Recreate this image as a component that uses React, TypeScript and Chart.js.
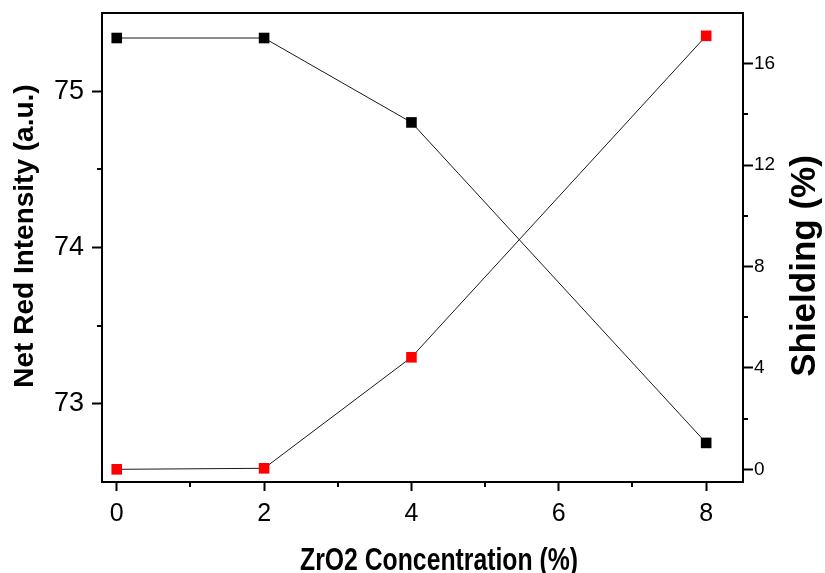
import React, { useEffect, useRef } from 'react';
import { Chart, registerables } from 'chart.js';

Chart.register(...registerables);

// ---- data ----
const concentration = [0, 2, 4, 8];
const netRedIntensity = [75.34, 75.34, 74.8, 72.75];
const shielding = [0, 0.04, 4.42, 17.1];

// ---- ticks ----
const xMajorTicks = [0, 2, 4, 6, 8];
const xMinorTicks = [1, 3, 5, 7];
const leftMajorTicks = [73, 74, 75];
const leftMinorTicks = [73.5, 74.5];
const rightMajorTicks = [0, 4, 8, 12, 16];
const rightMinorTicks = [2, 6, 10, 14];

// ---- texts ----
const xTitle = 'ZrO2 Concentration (%)';
const leftTitle = 'Net Red Intensity (a.u.)';
const rightTitle = 'Shielding (%)';

const FONT = "'Liberation Sans', Arial, sans-serif";

const framePlugin = {
  id: 'frameAndTitles',
  afterDraw(chart: any) {
    const ctx: CanvasRenderingContext2D = chart.ctx;
    const { left, right, top, bottom } = chart.chartArea;
    const sx = chart.scales.x;
    const sy = chart.scales.y;
    const sy2 = chart.scales.y2;
    ctx.save();
    ctx.strokeStyle = '#000';
    // top border
    ctx.lineWidth = 2;
    ctx.beginPath();
    ctx.moveTo(left - 1, top);
    ctx.lineTo(right + 1, top);
    ctx.stroke();
    // minor ticks
    ctx.lineWidth = 2;
    ctx.beginPath();
    xMinorTicks.forEach((v) => {
      const px = Math.round(sx.getPixelForValue(v));
      ctx.moveTo(px, bottom);
      ctx.lineTo(px, bottom + 5);
    });
    leftMinorTicks.forEach((v) => {
      const py = Math.round(sy.getPixelForValue(v));
      ctx.moveTo(left, py);
      ctx.lineTo(left - 5, py);
    });
    rightMinorTicks.forEach((v) => {
      const py = Math.round(sy2.getPixelForValue(v));
      ctx.moveTo(right, py);
      ctx.lineTo(right + 5, py);
    });
    ctx.stroke();

    // titles
    ctx.fillStyle = '#000';
    ctx.textAlign = 'center';
    ctx.textBaseline = 'middle';

    ctx.save();
    ctx.translate(25, 236);
    ctx.rotate(-Math.PI / 2);
    ctx.font = `bold 28px ${FONT}`;
    ctx.fillText(leftTitle, 0, 0);
    ctx.restore();

    ctx.save();
    ctx.translate(805, 266);
    ctx.rotate(-Math.PI / 2);
    ctx.font = `bold 35px ${FONT}`;
    ctx.fillText(rightTitle, 0, 0);
    ctx.restore();

    ctx.save();
    ctx.font = `bold 32px ${FONT}`;
    ctx.textBaseline = 'alphabetic';
    const w = ctx.measureText(xTitle).width;
    ctx.translate(439, 570);
    ctx.scale(278 / w, 1);
    ctx.fillText(xTitle, 0, 0);
    ctx.restore();

    ctx.restore();
  },
};

function zeroPad(s: any) {
  s.paddingTop = 0;
  s.paddingBottom = 0;
  s.paddingLeft = 0;
  s.paddingRight = 0;
}

export default function App() {
  const canvasRef = useRef<HTMLCanvasElement | null>(null);

  useEffect(() => {
    if (!canvasRef.current) return;
    const gridCommon = {
      drawOnChartArea: false,
      drawTicks: true,
      tickLength: 10,
      tickWidth: 2,
      tickColor: '#000',
      color: '#000',
    };
    const borderCommon = { display: true, color: '#000', width: 2 };

    const chart = new Chart(canvasRef.current, {
      type: 'line',
      data: {
        datasets: [
          {
            label: 'Net Red Intensity',
            data: concentration.map((x, i) => ({ x, y: netRedIntensity[i] })),
            yAxisID: 'y',
            borderColor: '#1a1a1a',
            borderWidth: 1,
            pointStyle: 'rect',
            pointRadius: 7.5,
            pointBorderWidth: 0,
            pointBackgroundColor: '#000',
            pointBorderColor: '#000',
            tension: 0,
          },
          {
            label: 'Shielding',
            data: concentration.map((x, i) => ({ x, y: shielding[i] })),
            yAxisID: 'y2',
            borderColor: '#1a1a1a',
            borderWidth: 1,
            pointStyle: 'rect',
            pointRadius: 7.5,
            pointBorderWidth: 0,
            pointBackgroundColor: '#ff0000',
            pointBorderColor: '#ff0000',
            tension: 0,
          },
        ],
      },
      options: {
        animation: false,
        responsive: false,
        layout: { padding: { top: 13, left: 0, right: 0, bottom: 0 } },
        plugins: {
          legend: { display: false },
          tooltip: { enabled: false },
          title: { display: false },
        },
        scales: {
          x: {
            type: 'linear',
            position: 'bottom',
            min: -0.2,
            max: 8.5,
            afterBuildTicks: (s: any) => {
              s.ticks = xMajorTicks.map((v) => ({ value: v }));
            },
            afterFit: (s: any) => {
              s.height = 91;
              zeroPad(s);
            },
            grid: { ...gridCommon, tickLength: 9 },
            border: borderCommon,
            ticks: {
              color: '#000',
              font: { family: FONT, size: 25 },
              padding: 8,
              maxRotation: 0,
              autoSkip: false,
            },
          },
          y: {
            type: 'linear',
            position: 'left',
            min: 72.5,
            max: 75.5,
            afterBuildTicks: (s: any) => {
              s.ticks = leftMajorTicks.map((v) => ({ value: v }));
            },
            afterFit: (s: any) => {
              s.width = 102;
              zeroPad(s);
            },
            grid: gridCommon,
            border: borderCommon,
            ticks: {
              color: '#000',
              font: { family: FONT, size: 27 },
              padding: 8,
              autoSkip: false,
            },
          },
          y2: {
            type: 'linear',
            position: 'right',
            min: -0.5,
            max: 18,
            afterBuildTicks: (s: any) => {
              s.ticks = rightMajorTicks.map((v) => ({ value: v }));
            },
            afterFit: (s: any) => {
              s.width = 82;
              zeroPad(s);
            },
            grid: gridCommon,
            border: borderCommon,
            ticks: {
              color: '#000',
              font: { family: FONT, size: 19 },
              padding: 1,
              autoSkip: false,
            },
          },
        },
      },
      plugins: [framePlugin],
    } as any);

    return () => {
      chart.destroy();
    };
  }, []);

  return (
    <div style={{ position: 'absolute', left: 0, top: 0, width: 825, height: 573, background: '#fff' }}>
      <canvas ref={canvasRef} width={825} height={573} style={{ display: 'block' }} />
    </div>
  );
}
